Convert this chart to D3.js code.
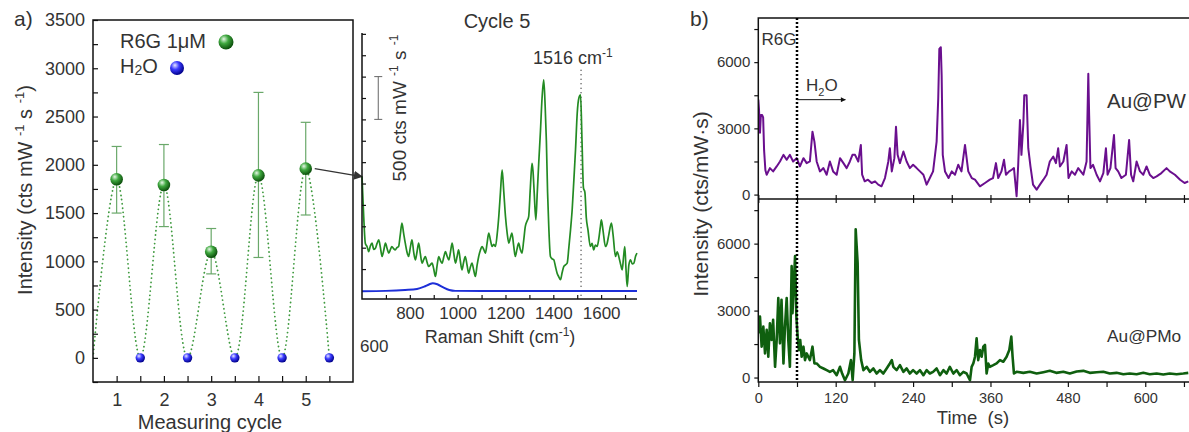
<!DOCTYPE html>
<html>
<head>
<meta charset="utf-8">
<script src="https://cdn.jsdelivr.net/npm/d3@7"></script>
<style>
  body { margin: 0; background: #fff; }
  svg { display: block; font-family: "Liberation Sans", Arial, sans-serif; }
  text { fill: #333; }
  .domain { display: none; }
  .tick line { stroke: #111; stroke-width: 1.2; }
</style>
</head>
<body>
<svg id="chart" width="1189" height="432"></svg>
<script>
// ---- panel a: intensity per measuring cycle
var cycles = [1, 2, 3, 4, 5];
var r6gMean = [1850, 1790, 1100, 1890, 1960];
var r6gHigh = [2190, 2210, 1340, 2750, 2440];
var r6gLow = [1500, 1360, 870, 1040, 1480];
var h2oPos = [1.5, 2.5, 3.5, 4.5, 5.5];
var h2oMean = [0, 0, 0, 0, 0];
var guideStart = [0.5, 0];
var yTicksA = [0, 500, 1000, 1500, 2000, 2500, 3000, 3500];

// ---- inset: Raman spectrum, cycle 5
var ramanShift = [600, 607, 614, 621, 628, 635, 642, 649, 656, 663,
    670, 677, 684, 691, 698, 705, 712, 719, 725, 732,
    739, 746, 753, 760, 767, 774, 781, 788, 795, 802,
    809, 816, 823, 830, 837, 844, 851, 858, 865, 872,
    879, 886, 893, 900, 907, 914, 921, 928, 935, 942,
    949, 956, 963, 970, 977, 984, 991, 998, 1004, 1011,
    1018, 1025, 1032, 1039, 1046, 1053, 1060, 1067, 1074, 1081,
    1088, 1095, 1102, 1109, 1116, 1123, 1130, 1137, 1144, 1151,
    1158, 1165, 1172, 1179, 1186, 1193, 1200, 1207, 1214, 1220,
    1227, 1234, 1241, 1248, 1255, 1262, 1269, 1276, 1283, 1290,
    1297, 1304, 1311, 1315, 1320, 1327, 1333, 1339, 1346, 1353,
    1360, 1366, 1371, 1376, 1381, 1388, 1395, 1402, 1409, 1416,
    1423, 1430, 1437, 1444, 1451, 1458, 1465, 1472, 1479, 1486,
    1493, 1500, 1507, 1514, 1520, 1526, 1532, 1538, 1545, 1555,
    1562, 1569, 1576, 1583, 1590, 1597, 1601, 1608, 1618, 1625,
    1632, 1643, 1650, 1660, 1667, 1677, 1682, 1688, 1694, 1699,
    1704, 1709, 1716, 1723, 1730, 1737, 1744, 1750];
var ramanR6G = [1082, 620, 300, 264, 205, 270, 303, 230, 244, 300,
    342, 250, 147, 220, 303, 240, 186, 230, 264, 240,
    225, 250, 264, 400, 537, 420, 303, 200, 147, 250,
    342, 200, 108, 200, 303, 180, 69, 110, 147, 80,
    30, 50, 69, 0, -87, 40, 147, 100, 69, 140,
    205, 150, 108, 200, 303, 180, 69, 150, 225, 100,
    -9, 80, 147, 50, -48, 20, 69, -10, -87, 40,
    147, 220, 264, 230, 186, 300, 420, 340, 264, 290,
    264, 400, 614, 900, 1160, 900, 614, 420, 303, 360,
    420, 280, 147, 230, 303, 230, 186, 330, 498, 560,
    614, 950, 1237, 1150, 900, 575, 900, 1237, 1600, 2000,
    2211, 1900, 1500, 900, 500, 147, 120, 108, 30, -48,
    -90, -125, -40, 30, 50, 69, 250, 459, 700, 1043,
    1400, 1822, 2000, 2036, 1500, 950, 900, 600, 459, 264,
    300, 225, 280, 264, 350, 500, 575, 450, 264, 300,
    400, 537, 400, 147, 200, 108, 50, -9, 150, 264,
    0, -203, 50, 108, 60, 69, 150, 186];
var waterShift = [600, 700, 780, 830, 860, 880, 896, 915, 940, 965, 990, 1100, 1300, 1500, 1750];
var waterCounts = [-258, -255, -245, -232, -205, -180, -165, -178, -215, -245, -255, -256, -256, -256, -256];
var scaleBar = [1750, 2250];
var peakMark = 1516;
var shiftTicks = [800, 1000, 1200, 1400, 1600];

// ---- panel b: time traces
var timePW = [0, 1, 2.6, 4, 6, 7.5, 9, 11, 13, 18,
    23, 28.5, 33.6, 39, 44, 49, 54, 59.5, 64.6, 70,
    75, 80, 84, 87, 90.5, 95.6, 101, 106, 111, 116,
    121.5, 126.7, 132, 137, 142, 146, 150, 155, 159, 161,
    165, 170, 175.7, 181, 186, 191, 196.4, 201.6, 204, 207,
    211, 213.5, 216, 219.6, 225, 230, 235, 240, 245.5, 250.7,
    256, 261, 266, 271, 276.5, 279, 280.7, 283, 284.3, 286,
    289.5, 295, 300, 305, 310, 315, 320.5, 325.6, 331, 336,
    343.7, 351.5, 359, 364, 368.5, 372, 377, 381, 384, 389,
    393, 396.4, 400.5, 403, 405.7, 408, 411, 412.4, 416, 418.6,
    422, 426, 431.6, 436.7, 442, 447, 452, 457.4, 461.5, 465,
    467.7, 473, 478, 481, 486, 491, 496, 504, 509, 511.7,
    513, 515, 519, 524.6, 529.8, 535, 539, 541.6, 546, 551.5,
    554, 558, 563, 570, 575, 578, 581.4, 586.6, 591.8, 597,
    602, 607, 612.4, 617.6, 625, 633, 638, 646, 654, 661,
    666.7];
var intPW = [4300, 3900, 2800, 3600, 3600, 3500, 2000, 1100, 900, 1200,
    1050, 1275, 1500, 1800, 1575, 1800, 1500, 1650, 1275, 1650,
    1425, 1500, 2850, 2400, 1500, 1050, 1200, 900, 1500, 1050,
    900, 1650, 1425, 1200, 1500, 1800, 1800, 1500, 2250, 900,
    600, 675, 525, 600, 450, 375, 750, 1500, 2100, 1050,
    1650, 3075, 1800, 1425, 1950, 1500, 1200, 1350, 1200, 1050,
    900, 450, 750, 1050, 2400, 4350, 6600, 6675, 5400, 1800,
    1050, 750, 1050, 900, 1350, 1050, 2250, 1050, 750, 675,
    375, 525, 675, 750, 1425, 750, 1050, 1575, 900, 1050,
    1125, 1200, -75, 1350, 3375, 1800, 3225, 4500, 4500, 2100,
    1275, 450, 225, 450, 675, 900, 1500, 1725, 1425, 2100,
    1275, 1500, 2250, 750, 1050, 900, 1200, 900, 1500, 5475,
    3600, 1200, 1350, 900, 600, 975, 2100, 900, 1200, 2700,
    1200, 1050, 750, 900, 2475, 900, 600, 1500, 1050, 900,
    1275, 900, 750, 825, 975, 1200, 1050, 900, 675, 525,
    600];
var timePMo = [0, 2.6, 5.2, 7.8, 10.4, 13, 15.5, 18, 20.7, 23,
    26, 28.5, 31, 33.6, 36, 39, 41.4, 44, 46.5, 49,
    51.7, 53, 55.3, 57, 59, 61, 63, 65, 67.2, 70,
    72.4, 75, 80, 84, 87, 90.5, 95.6, 101, 106, 111,
    116, 121.5, 126.7, 130, 134.4, 139.6, 143.7, 146.3, 149, 151,
    152.5, 154, 156, 159.5, 163, 168, 173, 178.4, 183.5, 188.6,
    193.8, 199, 204, 207, 209.3, 214.5, 219.6, 225, 230, 235,
    240, 245.5, 250.7, 256, 261, 266, 271, 276.5, 281.7, 287,
    292, 297, 302.4, 307.6, 312.7, 318, 323, 328.2, 330.8, 333.4,
    336, 338.5, 341, 343.7, 346.3, 348.9, 351.5, 354, 356.6, 359,
    364.4, 369.5, 374.7, 379.9, 385, 389.2, 392.3, 394.3, 396.4, 400.5,
    411, 421, 431.6, 442, 452, 462, 473, 483, 493.6, 504,
    514, 524.6, 535, 545, 555.6, 566, 576, 586.6, 597, 607,
    617.6, 628, 638, 648.6, 659, 666.7];
var intPMo = [1984, 2735, 1383, 2285, 1082, 2135, 932, 2435, 1683, 2585,
    481, 1683, 3562, 1533, 3487, 631, 2285, 3562, 1683, 481,
    4990, 2886, 4389, 5441, 2735, 1834, 1233, 1683, 932, 1383,
    782, 1082, 782, 1383, 631, 631, 481, 406, 331, 256,
    331, 105, 481, 180, -120, 180, 782, -120, 1082, 6643,
    5892, 5140, 1683, 782, 331, 481, 256, 406, 180, 331,
    180, 406, 631, 782, 481, 331, 556, 256, 406, 180,
    331, 180, 331, 105, 331, 180, 256, 406, 105, 331,
    180, 481, 180, 331, 105, 256, 180, -120, 481, 631,
    932, 1758, 782, 1233, 932, 1383, 1458, 180, 631, 481,
    556, 631, 782, 707, 932, 1233, 1834, 932, 180, 256,
    210, 256, 180, 240, 300, 210, 256, 180, 270, 300,
    210, 240, 256, 180, 210, 150, 180, 150, 210, 150,
    180, 135, 180, 150, 180, 210];
var rinseTime = 60;
var yTicksB = [0, 1500, 3000, 4500, 6000, 7500];
var timeTicks = [0, 60, 120, 180, 240, 300, 360, 420, 480, 540, 600, 660];

var svg = d3.select("#chart");
var defs = svg.append("defs");

// shaded ball gradients
function ball(id, light, mid, dark) {
    var g = defs.append("radialGradient").attr("id", id)
        .attr("cx", "38%").attr("cy", "35%").attr("r", "65%").attr("fx", "35%").attr("fy", "30%");
    g.append("stop").attr("offset", "0%").attr("stop-color", light);
    g.append("stop").attr("offset", "45%").attr("stop-color", mid);
    g.append("stop").attr("offset", "100%").attr("stop-color", dark);
}
ball("ballGreen", "#e6f7e6", "#3fa83f", "#0b4f0b");
ball("ballBlue", "#e8e8ff", "#3b3bff", "#00008a");

defs.append("marker").attr("id", "headDark")
    .attr("viewBox", "0 0 10 10").attr("refX", 9).attr("refY", 5)
    .attr("markerWidth", 9).attr("markerHeight", 9).attr("markerUnits", "userSpaceOnUse")
    .attr("orient", "auto")
    .append("path").attr("d", "M0,0L10,5L0,10Z").attr("fill", "#333");
defs.append("marker").attr("id", "headSmall")
    .attr("viewBox", "0 0 10 10").attr("refX", 9).attr("refY", 5)
    .attr("markerWidth", 8).attr("markerHeight", 5).attr("markerUnits", "userSpaceOnUse")
    .attr("orient", "auto")
    .append("path").attr("d", "M0,0L10,5L0,10Z").attr("fill", "#111");

function clip(id, x, y, w, h) {
    defs.append("clipPath").attr("id", id).append("rect")
        .attr("x", x).attr("y", y).attr("width", w).attr("height", h);
}

// ================= panel a =================
var xA = d3.scaleLinear().domain([0.5, 6]).range([93, 353]);
var yA = d3.scaleLinear().domain([-250, 3500]).range([382, 20]);
clip("clipA", 93, 20, 260, 362);

var guide = [guideStart];
cycles.forEach(function(c, i) {
    guide.push([c, r6gMean[i]]);
    guide.push([h2oPos[i], h2oMean[i]]);
});
svg.append("path")
    .attr("clip-path", "url(#clipA)")
    .attr("d", d3.line().x(d => xA(d[0])).y(d => yA(d[1])).curve(d3.curveCatmullRom.alpha(0.5))(guide))
    .attr("fill", "none").attr("stroke", "#3f9a3f").attr("stroke-width", 1.8)
    .attr("stroke-linecap", "round").attr("stroke-dasharray", "0.1,4.2");

// error bars
var err = svg.append("g").attr("stroke", "#6aa86a").attr("stroke-width", 1.2);
cycles.forEach(function(c, i) {
    err.append("line").attr("x1", xA(c)).attr("x2", xA(c)).attr("y1", yA(r6gLow[i])).attr("y2", yA(r6gHigh[i]));
    [r6gLow[i], r6gHigh[i]].forEach(function(v) {
        err.append("line").attr("x1", xA(c) - 5).attr("x2", xA(c) + 5).attr("y1", yA(v)).attr("y2", yA(v));
    });
});

svg.selectAll(".h2o").data(h2oPos).enter().append("circle")
    .attr("cx", d => xA(d)).attr("cy", (d, i) => yA(h2oMean[i])).attr("r", 4.7)
    .attr("fill", "url(#ballBlue)");
svg.selectAll(".r6g").data(cycles).enter().append("circle")
    .attr("cx", d => xA(d)).attr("cy", (d, i) => yA(r6gMean[i])).attr("r", 6.3)
    .attr("fill", "url(#ballGreen)");

// axes a (ticks inward)
svg.append("g").attr("transform", "translate(93,0)")
    .call(d3.axisLeft(yA).tickValues(d3.range(-250, 3501, 250)).tickSize(-5).tickPadding(8)
        .tickFormat(d => yTicksA.indexOf(d) >= 0 ? d : ""))
    .selectAll("text").attr("font-size", 18).attr("font-family", "Liberation Sans, Arial");
svg.append("g").attr("transform", "translate(0,382)")
    .call(d3.axisBottom(xA).tickValues(cycles.concat(h2oPos)).tickSize(-6).tickPadding(11)
        .tickFormat(d => cycles.indexOf(d) >= 0 ? d : ""))
    .selectAll("text").attr("font-size", 18).attr("font-family", "Liberation Sans, Arial");
svg.append("rect").attr("x", 93).attr("y", 20).attr("width", 260).attr("height", 362)
    .attr("fill", "none").attr("stroke", "#111").attr("stroke-width", 1.5);

svg.append("text").attr("x", 14).attr("y", 26).attr("font-size", 21).text("a)");
svg.append("text").attr("x", 210).attr("y", 429).attr("text-anchor", "middle")
    .attr("font-size", 20).text("Measuring cycle");
var ta = svg.append("text").attr("transform", "translate(32,190) rotate(-90)")
    .attr("text-anchor", "middle").attr("font-size", 20);
ta.append("tspan").text("Intensity (cts mW ");
ta.append("tspan").attr("font-size", 13).attr("dy", -8).text("-1");
ta.append("tspan").attr("dy", 8).text(" s ");
ta.append("tspan").attr("font-size", 13).attr("dy", -8).text("-1");
ta.append("tspan").attr("dy", 8).text(")");

// legend
svg.append("text").attr("x", 120).attr("y", 48).attr("font-size", 20).text("R6G 1\u03bcM");
svg.append("circle").attr("cx", 226).attr("cy", 42).attr("r", 7.5).attr("fill", "url(#ballGreen)");
var lh = svg.append("text").attr("x", 120).attr("y", 73).attr("font-size", 20);
lh.append("tspan").text("H");
lh.append("tspan").attr("font-size", 14).attr("dy", 2).text("2");
lh.append("tspan").attr("dy", -2).text("O");
svg.append("circle").attr("cx", 177).attr("cy", 68).attr("r", 7).attr("fill", "url(#ballBlue)");

// ================= inset =================
var xi = d3.scaleLinear().domain([600, 1750]).range([362, 637]);
var yi = d3.scaleLinear().domain([-350, 2760]).range([299, 33]);

svg.append("line")
    .attr("x1", xA(cycles[4]) + 9).attr("y1", yA(r6gMean[4]))
    .attr("x2", xi(ramanShift[0])).attr("y2", yi(ramanR6G[0]))
    .attr("stroke", "#333").attr("stroke-width", 1.3).attr("marker-end", "url(#headDark)");

svg.append("line").attr("x1", xi(peakMark)).attr("x2", xi(peakMark))
    .attr("y1", yi(2330)).attr("y2", yi(-350))
    .attr("stroke", "#222").attr("stroke-width", 1.2).attr("stroke-dasharray", "1,3.5");

svg.append("path")
    .attr("d", d3.line().x((d, i) => xi(waterShift[i])).y(d => yi(d)).curve(d3.curveMonotoneX)(waterCounts))
    .attr("fill", "none").attr("stroke", "#1d2fd8").attr("stroke-width", 2);
svg.append("path")
    .attr("d", d3.line().x((d, i) => xi(ramanShift[i])).y(d => yi(d)).curve(d3.curveMonotoneX)(ramanR6G))
    .attr("fill", "none").attr("stroke", "#238b23").attr("stroke-width", 1.7);

svg.append("g").attr("transform", "translate(362,0)")
    .call(d3.axisLeft(yi).tickValues(d3.range(0, 2751, 250)).tickSize(-4).tickFormat(""));
svg.append("g").attr("transform", "translate(0,299)")
    .call(d3.axisBottom(xi).tickValues(d3.range(700, 1751, 100)).tickSize(-4).tickPadding(8)
        .tickFormat(d => shiftTicks.indexOf(d) >= 0 ? d : ""))
    .selectAll("text").attr("font-size", 17).attr("font-family", "Liberation Sans, Arial");
svg.append("path").attr("d", "M362,33V299H637").attr("fill", "none").attr("stroke", "#111").attr("stroke-width", 1.5);

// scale bar
var sb = svg.append("g").attr("stroke", "#666").attr("stroke-width", 1);
sb.append("line").attr("x1", xi(668)).attr("x2", xi(668)).attr("y1", yi(scaleBar[0])).attr("y2", yi(scaleBar[1]));
scaleBar.forEach(function(v) {
    sb.append("line").attr("x1", xi(668) - 4).attr("x2", xi(668) + 4).attr("y1", yi(v)).attr("y2", yi(v));
});

svg.append("text").attr("x", 497).attr("y", 28).attr("text-anchor", "middle").attr("font-size", 20).text("Cycle 5");
var tp = svg.append("text").attr("x", 533).attr("y", 64).attr("font-size", 18);
tp.append("tspan").text(peakMark + " cm");
tp.append("tspan").attr("font-size", 12).attr("dy", -7).text("-1");
var ts = svg.append("text").attr("transform", "translate(406,108) rotate(-90)")
    .attr("text-anchor", "middle").attr("font-size", 19);
ts.append("tspan").text("500 cts mW ");
ts.append("tspan").attr("font-size", 12).attr("dy", -8).text("-1");
ts.append("tspan").attr("dy", 8).text(" s ");
ts.append("tspan").attr("font-size", 12).attr("dy", -8).text("-1");
var tr = svg.append("text").attr("x", 500).attr("y", 343).attr("text-anchor", "middle").attr("font-size", 18);
tr.append("tspan").text("Raman Shift (cm");
tr.append("tspan").attr("font-size", 12).attr("dy", -7).text("-1");
tr.append("tspan").attr("dy", 7).text(")");
svg.append("text").attr("x", 360).attr("y", 352).attr("font-size", 17).text("600");

// ================= panel b =================
var xB = d3.scaleLinear().domain([0, 670]).range([758.3, 1190.4]);
var yTop = d3.scaleLinear().domain([-200, 8000]).range([199, 18]);
var yBot = d3.scaleLinear().domain([-200, 8000]).range([382, 199]);
clip("clipTop", 758, 18, 440, 181);
clip("clipBot", 758, 199, 440, 183);

svg.append("path").attr("clip-path", "url(#clipTop)")
    .attr("d", d3.line().x((d, i) => xB(timePW[i])).y(d => yTop(d))(intPW))
    .attr("fill", "none").attr("stroke", "#6a0f8e").attr("stroke-width", 2).attr("stroke-linejoin", "round");
svg.append("path").attr("clip-path", "url(#clipBot)")
    .attr("d", d3.line().x((d, i) => xB(timePMo[i])).y(d => yBot(d))(intPMo))
    .attr("fill", "none").attr("stroke", "#0f5f0f").attr("stroke-width", 2.6).attr("stroke-linejoin", "round");

[yTop, yBot].forEach(function(s) {
    svg.append("g").attr("transform", "translate(758.3,0)")
        .call(d3.axisLeft(s).tickValues(yTicksB).tickSize(4).tickPadding(4)
            .tickFormat(d => d % 3000 === 0 ? d : ""))
        .selectAll("text").attr("font-size", 15).attr("font-family", "Liberation Sans, Arial");
});
svg.append("g").attr("transform", "translate(0,382)")
    .call(d3.axisBottom(xB).tickValues(timeTicks).tickSize(5).tickPadding(6)
        .tickFormat(d => d % 120 === 0 ? d : ""))
    .selectAll("text").attr("font-size", 14.5).attr("font-family", "Liberation Sans, Arial");
svg.append("g").attr("transform", "translate(0,199)")
    .call(d3.axisBottom(xB).tickValues(timeTicks).tickSize(4).tickFormat(""));
svg.append("g").attr("transform", "translate(0,199)")
    .call(d3.axisTop(xB).tickValues(timeTicks).tickSize(4).tickFormat(""));
svg.append("rect").attr("x", 758.3).attr("y", 18).attr("width", 440).attr("height", 364)
    .attr("fill", "none").attr("stroke", "#111").attr("stroke-width", 1.5);
svg.append("line").attr("x1", 758.3).attr("x2", 1190).attr("y1", 199).attr("y2", 199)
    .attr("stroke", "#111").attr("stroke-width", 1.5);

svg.append("line").attr("x1", xB(rinseTime)).attr("x2", xB(rinseTime)).attr("y1", 18).attr("y2", 382)
    .attr("stroke", "#000").attr("stroke-width", 2.5).attr("stroke-dasharray", "2,2");
svg.append("line").attr("x1", xB(rinseTime)).attr("x2", xB(135))
    .attr("y1", yTop(4300)).attr("y2", yTop(4300))
    .attr("stroke", "#111").attr("stroke-width", 1).attr("marker-end", "url(#headSmall)");

svg.append("text").attr("x", 690).attr("y", 26).attr("font-size", 21).text("b)");
svg.append("text").attr("x", xB(5)).attr("y", 45).attr("font-size", 17).text("R6G");
var bh = svg.append("text").attr("x", xB(74)).attr("y", 91).attr("font-size", 17);
bh.append("tspan").text("H");
bh.append("tspan").attr("font-size", 11).attr("dy", 5).text("2");
bh.append("tspan").attr("dy", -5).text("O");
svg.append("text").attr("x", 1107).attr("y", 108).attr("font-size", 20.5).text("Au@PW");
svg.append("text").attr("x", 1107).attr("y", 342).attr("font-size", 17.3).text("Au@PMo");
svg.append("text").attr("x", 973).attr("y", 424).attr("text-anchor", "middle").attr("font-size", 18.5)
    .attr("xml:space", "preserve").text("Time  (s)");
svg.append("text").attr("transform", "translate(708,204) rotate(-90)")
    .attr("text-anchor", "middle").attr("font-size", 21).text("Intensity (cts/mW\u00b7s)");
</script>
</body>
</html>
